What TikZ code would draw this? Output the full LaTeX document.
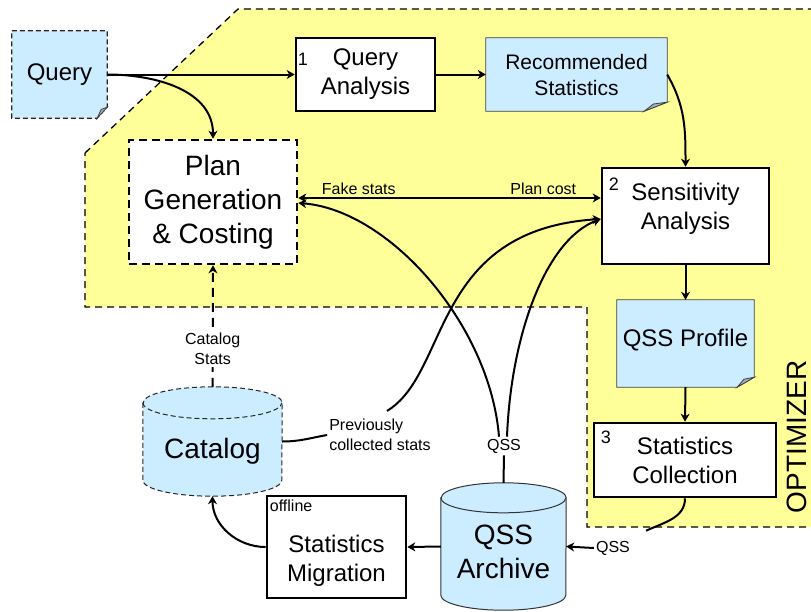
\documentclass[tikz,border=0pt]{standalone}
\usepackage{fontspec}
\setmainfont{Liberation Sans}
\usetikzlibrary{arrows.meta,backgrounds}

\definecolor{optyellow}{RGB}{255,255,153}
\definecolor{noteblue}{RGB}{204,236,255}
\definecolor{foldgray}{RGB}{160,180,200}

\newcommand{\shifttext}[2]{\raisebox{#1}[\height][\depth]{\begin{tabular}{@{}c@{}}#2\end{tabular}}}

\tikzset{
  big/.style={font=\fontsize{28}{34}\selectfont},
  mid/.style={font=\fontsize{24}{29}\selectfont},
  small/.style={font=\fontsize{16}{20}\selectfont},
  procbox/.style={mid, draw, line width=2.6pt, fill=white, align=center, inner sep=0pt},
  notebox/.style={mid, align=center, inner sep=0pt},
  numtag/.style={font=\fontsize{18}{18}\selectfont, anchor=north west, inner sep=0pt},
  edgelbl/.style={small, inner sep=2pt},
  link/.style={line width=2pt},
  flow/.style={link, ->},
  noteline/.style={draw=black!75, line width=0.8pt},
  notedash/.style={draw=black!85, line width=1.2pt, dash pattern=on 5pt off 3pt},
  cylline/.style={draw=black!80, line width=1pt},
  cyldash/.style={draw=black!85, line width=1pt, dash pattern=on 5pt off 3pt},
}

\begin{document}
\begin{tikzpicture}[x=1pt,y=1pt,>={Stealth[length=8pt,width=9pt,inset=2.5pt]}]
\useasboundingbox (0,0) rectangle (811,-611);

\node[notebox, minimum width=95pt, minimum height=87pt] (qry) at (59.5,-74.5) {Query};
\node[procbox, minimum width=139pt, minimum height=73pt] (qa) at (365.5,-74.5) {Query\\Analysis};
\node[notebox, font=\fontsize{21}{26}\selectfont, minimum width=181pt, minimum height=73pt] (recstats) at (576.5,-74.5) {Recommended\\Statistics};
\node[procbox, minimum width=167pt, minimum height=96pt] (sens) at (685.5,-216) {\shifttext{7pt}{Sensitivity\\Analysis}};
\node[procbox, big, dash pattern=on 8pt off 5pt, minimum width=168pt, minimum height=124pt] (plan) at (213,-202) {Plan\\Generation\\\& Costing};
\node[notebox, minimum width=137pt, minimum height=87pt] (profile) at (685.5,-343.5) {\shifttext{3pt}{QSS Profile}};
\node[procbox, minimum width=182pt, minimum height=74pt] (coll) at (685,-460) {Statistics\\Collection};
\node[big, minimum width=125pt, minimum height=127pt, inner sep=0pt] (archive) at (503.5,-546.5) {\shifttext{-8pt}{QSS\\Archive}};
\node[big, minimum width=139pt, minimum height=109pt, inner sep=0pt] (catalog) at (212.5,-441.5) {\shifttext{-10pt}{Catalog}};
\node[procbox, minimum width=139pt, minimum height=102pt] (migr) at (336.5,-547) {\shifttext{-14pt}{Statistics\\Migration}};

\node[numtag] (qa-no) at ([shift={(3pt,-16pt)}]qa.north west) {1};
\node[numtag] (sens-no) at ([shift={(8pt,-11pt)}]sens.north west) {2};
\node[numtag] (coll-no) at ([shift={(8pt,-9pt)}]coll.north west) {3};
\node[small, anchor=north west, inner sep=0pt] (offline) at ([shift={(4pt,-5pt)}]migr.north west) {offline};
\node[edgelbl, align=left] (prev) at (380,-435) {Previously\\collected stats};
\node[edgelbl] (qss1) at (504,-446) {QSS};
\node[edgelbl] (qss2) at (613,-548) {QSS};
\node[big, rotate=90, inner sep=0pt] (opt) at (796.5,-437) {OPTIMIZER};

\begin{pgfonlayer}{background}
\fill[optyellow] (85,-153) -- (238,-9) -- (830,-9) -- (830,-527) -- (587,-527) -- (587,-307) -- (85,-307) -- cycle;
\draw[line width=1.3pt, dash pattern=on 7pt off 5pt] (85,-153) -- (238,-9) -- (830,-9) -- (830,-527) -- (587,-527) -- (587,-307) -- (85,-307) -- cycle;
\foreach \n/\dx/\dy/\st in {qry/10/11/notedash, recstats/23/9/noteline, profile/17/10/noteline} {
  \filldraw[fill=noteblue, \st] (\n.north west) -- (\n.north east) -- ([shift={(0,\dy)}]\n.south east)
    -- ([shift={(-\dx,0)}]\n.south east) -- (\n.south west) -- cycle;
  \filldraw[fill=foldgray, noteline] ([shift={(-\dx,0)}]\n.south east) -- ([shift={(-0.6*\dx,0.8*\dy)}]\n.south east)
    -- ([shift={(0,\dy)}]\n.south east) -- cycle;
}
\foreach \n/\rx/\ry/\st in {catalog/69.5/16/cyldash, archive/62.5/15/cylline} {
  \filldraw[fill=noteblue, \st] ([yshift=-\ry pt]\n.north west) -- ([yshift=\ry pt]\n.south west)
    arc[start angle=180, end angle=360, x radius=\rx pt, y radius=\ry pt] -- ([yshift=-\ry pt]\n.north east)
    arc[start angle=0, end angle=180, x radius=\rx pt, y radius=\ry pt] -- cycle;
  \draw[\st] ([yshift=-\ry pt]\n.north west) arc[start angle=180, end angle=360, x radius=\rx pt, y radius=\ry pt];
}
\end{pgfonlayer}

\draw[flow] (qry.east) -- (qa.west);
\draw[flow] (qry.east) to[out=0,in=90] (plan.north);
\draw[flow] (qa.east) -- (recstats.west);
\draw[flow] (recstats.east) to[out=-60,in=90] (sens.north);
\draw[flow, <->] ([yshift=4pt]plan.east) -- ([yshift=4pt]plan.east -| sens.west)
  node[edgelbl, pos=0.2, above] (fake) {Fake stats}
  node[edgelbl, pos=0.81, above] (cost) {Plan cost};
\draw[flow] (sens.south) -- (profile.north);
\draw[flow] (profile.south) -- (coll.north);
\draw[link] (coll.south) to[out=-90,in=25] ([shift={(14pt,8pt)}]qss2.north east);
\draw[flow] (qss2.west) -- (archive.east);
\draw[flow] (archive.west) -- (migr.east);
\draw[flow] (migr.west) to[out=180,in=-90] (catalog.south);
\draw[flow, dash pattern=on 9pt off 6pt] (catalog.north) -- (plan.south)
  node[edgelbl, pos=0.31, fill=white, align=center] (catstats) {Catalog\\Stats};
\draw[link] (catalog.east) to[out=0,in=-170] (prev.west);
\draw[flow] ([shift={(7pt,6pt)}]prev.north) .. controls +(63,38) and +(-170,-11) .. ([yshift=-3pt]sens.west);
\draw[link] (archive.north) -- (qss1.south);
\draw[flow] ([xshift=-5pt]qss1.north) .. controls +(-9,112) and +(91,-7) .. ([yshift=-1pt]plan.east);
\draw[flow] ([xshift=3pt]qss1.north) .. controls +(4,102) and +(-55,-21) .. ([yshift=-3pt]sens.west);
\end{tikzpicture}
\end{document}
